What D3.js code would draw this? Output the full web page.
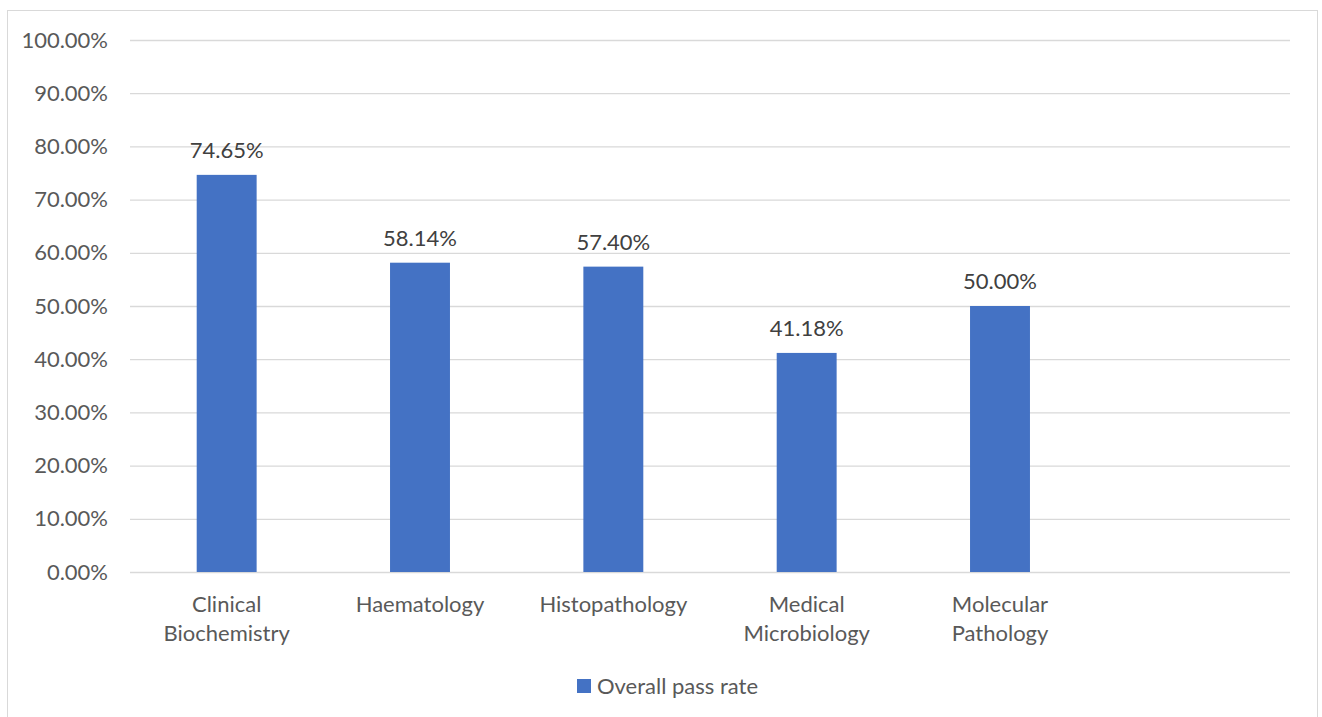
<!DOCTYPE html>
<html>
<head>
<meta charset="utf-8">
<script src="https://cdn.jsdelivr.net/npm/d3@7"></script>
<style>
body { margin: 0; background: white; }
</style>
</head>
<body>
<div id="chart"></div>
<script>
// Data
var categories = ["Clinical Biochemistry", "Haematology", "Histopathology", "Medical Microbiology", "Molecular Pathology", ""];
var categoryLines = [["Clinical", "Biochemistry"], ["Haematology"], ["Histopathology"], ["Medical", "Microbiology"], ["Molecular", "Pathology"], []];
var passRate = [0.7465, 0.5814, 0.5740, 0.4118, 0.5000, null];
var yTicks = [0, 0.1, 0.2, 0.3, 0.4, 0.5, 0.6, 0.7, 0.8, 0.9, 1.0];
var seriesName = "Overall pass rate";

var W = 1322, H = 717;
var margin = {top: 40, right: 32, bottom: 145, left: 130};
var font = "Lato, 'Open Sans', sans-serif";
var fs = "22px";

var svg = d3.select("#chart").append("svg")
    .attr("width", W)
    .attr("height", H)
    .style("font-family", font);

// outer border
svg.append("rect")
    .attr("x", 7.5).attr("y", 10.5)
    .attr("width", 1310).attr("height", 720)
    .attr("fill", "white")
    .attr("stroke", "#d9d9d9");

var x_scale = d3.scaleBand()
    .domain(categories.map(function(d, i){ return i; }))
    .range([margin.left, W - margin.right])
    .paddingInner(0.69)
    .paddingOuter(0.345);

var x_band = d3.scaleBand()
    .domain(categories.map(function(d, i){ return i; }))
    .range([margin.left, W - margin.right]);

var y_scale = d3.scaleLinear()
    .domain([0, 1])
    .range([H - margin.bottom, margin.top]);

// gridlines
var yAxis = d3.axisLeft(y_scale)
    .tickValues(yTicks)
    .tickSize(-(W - margin.right - margin.left))
    .tickPadding(22)
    .tickFormat(function(d){ return (d * 100).toFixed(2) + "%"; });

var gy = svg.append("g")
    .attr("transform", "translate(" + margin.left + ",0)")
    .call(yAxis);
gy.select(".domain").remove();
gy.selectAll("line").attr("stroke", "#d9d9d9").attr("stroke-width", 1.3);
gy.selectAll("text")
    .attr("fill", "#595959")
    .style("font-size", fs)
    .style("font-family", font);

// bars
svg.append("g")
    .selectAll("rect")
    .data(passRate)
    .enter()
    .filter(function(d){ return d !== null; })
    .append("rect")
    .attr("x", function(d, i){ return x_scale(i); })
    .attr("y", function(d){ return y_scale(d); })
    .attr("width", x_scale.bandwidth())
    .attr("height", function(d){ return y_scale(0) - y_scale(d); })
    .attr("fill", "#4472c4");

// value labels
svg.append("g")
    .selectAll("text")
    .data(passRate)
    .enter()
    .filter(function(d){ return d !== null; })
    .append("text")
    .attr("x", function(d, i){ return x_scale(i) + x_scale.bandwidth() / 2; })
    .attr("y", function(d){ return y_scale(d) - 17; })
    .attr("text-anchor", "middle")
    .attr("fill", "#404040")
    .style("font-size", fs)
    .text(function(d){ return (d * 100).toFixed(2) + "%"; });

// category labels
var cat = svg.append("g")
    .selectAll("text")
    .data(categoryLines)
    .enter()
    .append("text")
    .attr("x", function(d, i){ return x_band(i) + x_band.bandwidth() / 2; })
    .attr("y", y_scale(0) + 40)
    .attr("text-anchor", "middle")
    .attr("fill", "#595959")
    .style("font-size", fs);
cat.selectAll("tspan")
    .data(function(d){ return d; })
    .enter()
    .append("tspan")
    .attr("x", function(){ return d3.select(this.parentNode).attr("x"); })
    .attr("dy", function(d, i){ return i === 0 ? 0 : 29; })
    .text(function(d){ return d; });

// legend
var legend = svg.append("g").attr("transform", "translate(577,679)");
legend.append("rect")
    .attr("width", 14).attr("height", 14)
    .attr("fill", "#4472c4");
legend.append("text")
    .attr("x", 20).attr("y", 15)
    .attr("fill", "#595959")
    .style("font-size", fs)
    .text(seriesName);
</script>
</body>
</html>
